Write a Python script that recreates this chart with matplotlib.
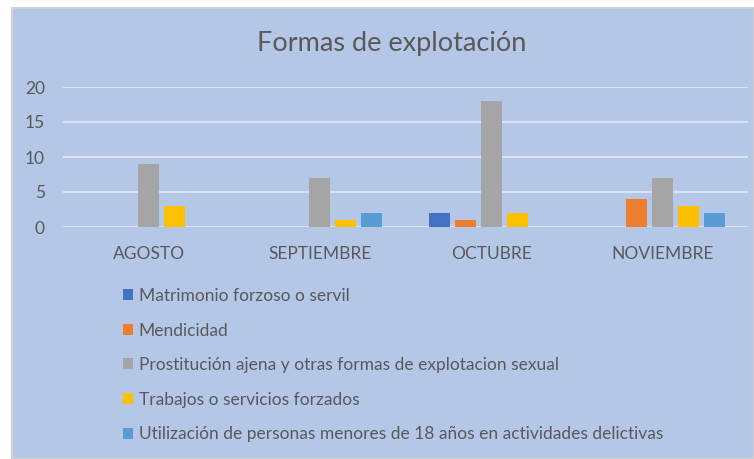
import matplotlib
matplotlib.use("Agg")
import matplotlib.pyplot as plt
import numpy as np
from matplotlib.patches import Rectangle, Patch

categories = ["AGOSTO", "SEPTIEMBRE", "OCTUBRE", "NOVIEMBRE"]
series_names = [
    "Matrimonio forzoso o servil",
    "Mendicidad",
    "Prostitución ajena y otras formas de explotacion sexual",
    "Trabajos o servicios forzados",
    "Utilización de personas menores de 18 años en actividades delictivas",
]
matrimonio = [0, 0, 2, 0]
mendicidad = [0, 0, 1, 4]
prostitucion = [9, 7, 18, 7]
trabajos = [3, 1, 2, 3]
utilizacion = [0, 2, 0, 2]
series_values = [matrimonio, mendicidad, prostitucion, trabajos, utilizacion]
colors = ["#4472C4", "#ED7D31", "#A5A5A5", "#FFC000", "#5B9BD5"]
yticks = [0, 5, 10, 15, 20]

plt.rcParams['font.family'] = ['Lato', 'DejaVu Sans']
TXT = "#595959"
BG = "#B4C7E7"

W, H = 754, 459
fig = plt.figure(figsize=(W / 100, H / 100), dpi=100)
fig.patch.set_facecolor("white")
fig.patches.append(Rectangle((12 / W, 0), 1 - 12 / W, 1 - 8 / H, transform=fig.transFigure,
                             facecolor=BG, edgecolor="#D0D0D0", linewidth=1.5, zorder=0))

ax = fig.add_axes([63 / W, 1 - 227 / H, (748 - 63) / W, (227 - 87) / H])
ax.set_zorder(2)
ax.set_facecolor("none")
x = np.arange(len(categories))
pitch = 0.152
bw = 0.123
for i, (vals, c) in enumerate(zip(series_values, colors)):
    ax.bar(x + (i - 2) * pitch, vals, width=bw, color=c, linewidth=0, zorder=3)

ax.set_xlim(-0.5, len(categories) - 0.5)
ax.set_ylim(0, 20)
ax.set_yticks(yticks)
ax.yaxis.grid(True, color="#E2E8F3", linewidth=1.2, zorder=0)
ax.set_axisbelow(True)
for s in ax.spines.values():
    s.set_visible(False)
ax.tick_params(axis="both", length=0, colors=TXT, labelsize=12.5)
ax.tick_params(axis="y", pad=13)
ax.tick_params(axis="x", pad=14)
ax.set_xticks(x)
ax.set_xticklabels(categories)

fig.text(392 / W, 1 - 44 / H, "Formas de explotación", ha="center", va="center",
         fontsize=19.5, color=TXT)

handles = [Patch(facecolor=c, edgecolor="none") for c in colors]
leg = fig.legend(handles, series_names, loc="upper left",
                 bbox_to_anchor=(116 / W, 1 - 281 / H), frameon=False,
                 fontsize=12.5, labelcolor=TXT, handlelength=0.6, handleheight=0.6,
                 handletextpad=0.3, labelspacing=1.07, borderaxespad=0)

fig.savefig("out.png", dpi=100, facecolor="white")
